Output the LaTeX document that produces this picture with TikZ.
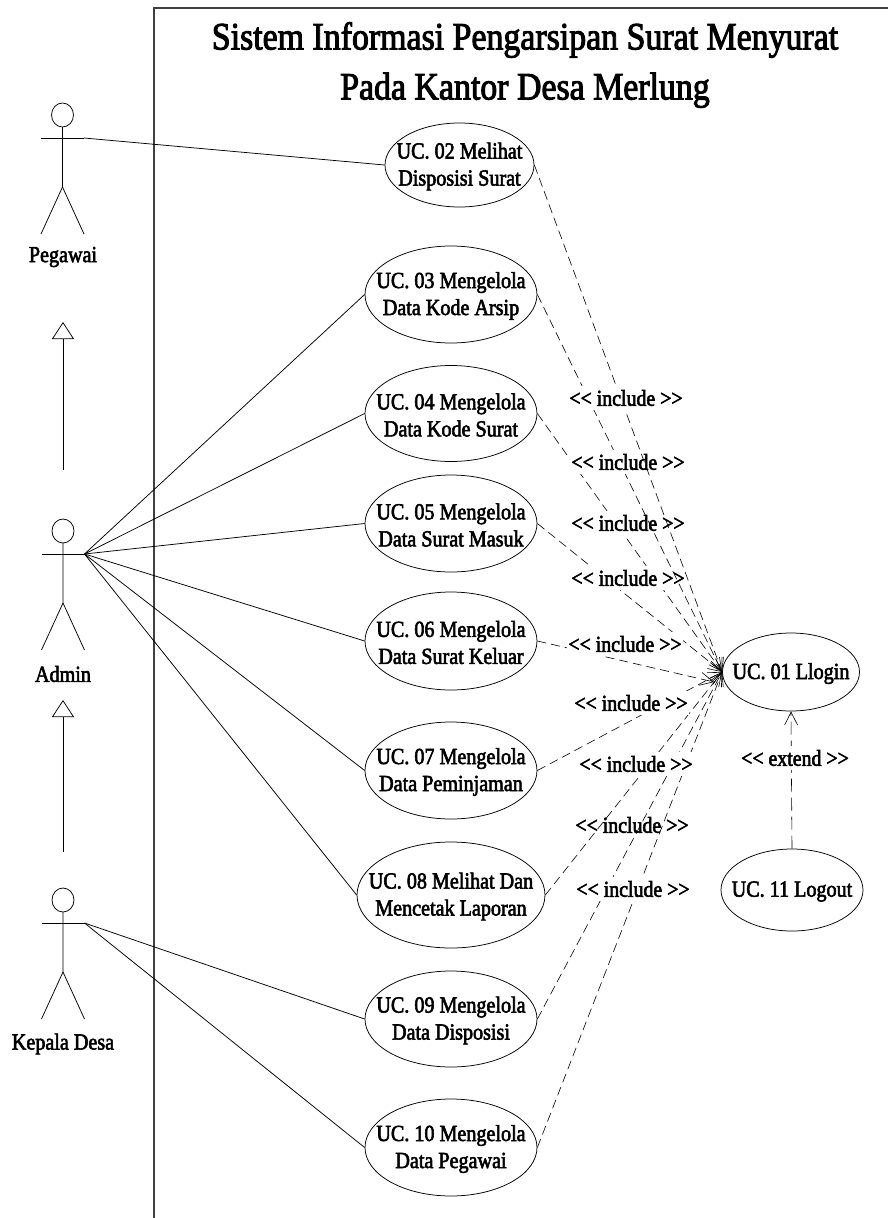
\documentclass[tikz,border=0pt]{standalone}
\usepackage{fontspec}
\setmainfont[FakeBold=2.5,FakeStretch=0.875]{Liberation Serif}
\usetikzlibrary{arrows.meta,shapes.geometric}
\tikzset{x=1pt,y=-1pt,
  ucshape/.style={draw=black,line width=0.75pt,ellipse,inner sep=0pt},
  uctext/.style={inner sep=0pt,align=center,yshift=-1.5pt,font=\fontsize{23}{27}\selectfont},
  lbl/.style={fill=white,inner xsep=1pt,inner ysep=4pt,font=\fontsize{22.7}{25}\selectfont},
  lblplain/.style={inner sep=1pt,font=\fontsize{22.7}{25}\selectfont},
  actlbl/.style={inner sep=0pt,font=\fontsize{23}{25}\selectfont},
  assoc/.style={draw=black,line width=0.75pt},
  incl/.style={draw=black,line width=0.6pt,dash pattern=on 9pt off 5pt,-{Straight Barb[length=13pt,width=13pt,line width=0.6pt]}},
  extl/.style={draw=black,line width=0.6pt,dash pattern=on 13pt off 6pt,-{Straight Barb[length=13pt,width=13pt,line width=0.6pt]}},
  actline/.style={draw=black,line width=0.75pt},
}
\newcommand{\actor}[3]{% name x y(head centre)
  \node[draw=black,line width=0.75pt,ellipse,minimum width=22pt,minimum height=24pt,inner sep=0pt] (#1) at (#2,#3) {};
  \coordinate (#1s) at (#2+21.5,#3+23);
  \draw[actline] (#2,#3+12) -- (#2,#3+72) -- (#2-21.5,#3+119);
  \draw[actline] (#2,#3+72) -- (#2+21.5,#3+119);
  \draw[actline] (#2-21.5,#3+23) -- (#1s);
}
\newcommand{\ucnode}[6]{% name cx cy rx ry text
  \node[ucshape,minimum width=#4pt*2,minimum height=#5pt*2] (#1) at (#2,#3) {};
  \node[uctext] (#1t) at (#2,#3) {#6};
}
\begin{document}
\begin{tikzpicture}
\useasboundingbox (0,0) rectangle (888,1218);
\fill[white] (0,0) rectangle (888,1218);
% boundary
\draw[draw=black!75,line width=1.4pt] (888,8) -- (154,8) -- (154,1218);
\node[font=\fontsize{38.7}{50}\selectfont,align=center,inner sep=0pt] (title) at (525,65) {Sistem Informasi Pengarsipan Surat Menyurat\\Pada Kantor Desa Merlung};
% actors
\actor{peg}{62.5}{115}
\actor{adm}{63}{531}
\actor{kep}{63}{900}
\node[actlbl] (lpeg) at (63,257) {Pegawai};
\node[actlbl] (ladm) at (63,674) {Admin};
\node[actlbl] (lkep) at (63,1044) {Kepala Desa};
% generalisation
\coordinate (g1) at (63,470);
\coordinate (g2) at (63,852);
\coordinate (g1t) at (63,322);
\coordinate (g2t) at (63,700);
\draw[line width=0.75pt,-{Triangle[open,length=17pt,width=22pt,line width=0.75pt]}] (g1) -- (g1t);
\draw[line width=0.75pt,-{Triangle[open,length=17pt,width=22pt,line width=0.75pt]}] (g2) -- (g2t);
% use cases
\ucnode{u2}{459.5}{165}{74.5}{42}{UC. 02 Melihat\\Disposisi Surat}
\ucnode{u3}{451}{294.5}{86}{48.5}{UC. 03 Mengelola\\Data Kode Arsip}
\ucnode{u4}{451}{413.5}{86}{48}{UC. 04 Mengelola\\Data Kode Surat}
\ucnode{u5}{451}{523.5}{86}{48.5}{UC. 05 Mengelola\\Data Surat Masuk}
\ucnode{u6}{451}{641}{86}{49}{UC. 06 Mengelola\\Data Surat Keluar}
\ucnode{u7}{451}{770.5}{86}{48.5}{UC. 07 Mengelola\\Data Peminjaman}
\ucnode{u8}{451}{895}{94}{53}{UC. 08 Melihat Dan\\Mencetak Laporan}
\ucnode{u9}{451}{1019}{86}{48}{UC. 09 Mengelola\\Data Disposisi}
\ucnode{u10}{451}{1147.5}{86}{48.5}{UC. 10 Mengelola\\Data Pegawai}
\ucnode{u1}{791}{672}{68.5}{39}{UC. 01 Llogin}
\ucnode{u11}{792}{890}{71}{41}{UC. 11 Logout}
% associations
\draw[assoc] (pegs) -- (u2.west);
\foreach \t in {u3,u4,u5,u6,u7,u8} \draw[assoc] (adms) -- (\t.west);
\foreach \t in {u9,u10} \draw[assoc] (keps) -- (\t.west);
% includes, in stacking order with their labels
\foreach \t in {u4,u5,u7,u8,u9,u10} \draw[incl] (\t.east) -- (u1.west);
\coordinate (u6e) at (714,682);
\draw[incl] (u6.east) -- (u6e);
\foreach \n/\x/\y in {d/628/578,c/628/523,e/625/644,f/631/703,g/636/764,i/633/889}
  \node[lbl] (l\n) at (\x,\y) {<{}< include >{}>};
\draw[incl] (u3.east) -- (u1.west);
\node[lbl] (lb) at (628,462) {<{}< include >{}>};
\draw[incl] (u2.east) -- (u1.west);
\node[lbl] (la) at (626,398) {<{}< include >{}>};
\node[lblplain] (lh) at (632,825) {<{}< include >{}>};
\draw[extl] (u11.north) -- (u1.south);
\node[lbl] (lx) at (795,758) {<{}< extend >{}>};
\end{tikzpicture}
\end{document}
